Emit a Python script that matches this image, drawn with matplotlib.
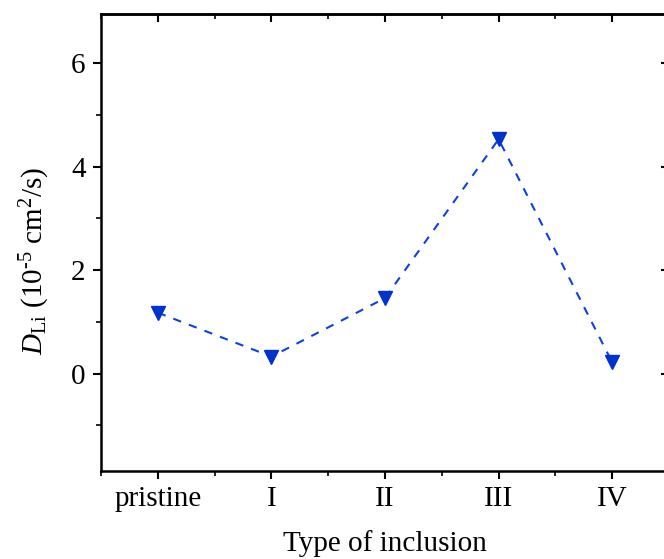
import numpy as np
import matplotlib.pyplot as plt
from matplotlib.ticker import MultipleLocator

# Data
categories = ["pristine", "I", "II", "III", "IV"]
d_li = [1.18, 0.33, 1.46, 4.53, 0.22]

plt.rcParams['font.family'] = 'Liberation Serif'
plt.rcParams['mathtext.fontset'] = 'custom'
plt.rcParams['mathtext.rm'] = 'Liberation Serif'
plt.rcParams['mathtext.it'] = 'Liberation Serif:italic'

fig = plt.figure(figsize=(6.64, 5.59), dpi=100)
ax = fig.add_axes([101 / 664, 1 - 471 / 559, 568 / 664, 457 / 559])

x = np.arange(len(categories))
ax.plot(x, d_li, linestyle='--', color='#1040e0', linewidth=1.5,
        marker='v', markersize=10, markerfacecolor='#0033cc',
        markeredgecolor='#0033cc', dashes=(4, 4))

ax.set_xlim(-0.5, 4.5)
ax.set_ylim(-1.88, 6.95)
ax.set_xticks(x)
ax.set_xticklabels(categories)
ax.xaxis.set_minor_locator(MultipleLocator(0.5))
ax.yaxis.set_major_locator(MultipleLocator(2))
ax.yaxis.set_minor_locator(MultipleLocator(1))

ax.tick_params(axis='both', which='major', labelsize=21, length=6, width=1.5,
               direction='out')
ax.tick_params(axis='both', which='minor', length=3.5, width=1.2,
               direction='out')
ax.tick_params(axis='x', which='major', pad=5)
ax.tick_params(axis='y', which='major', pad=5)

# top and right ticks point inward, no labels
top = ax.secondary_xaxis('top')
top.set_xticks(x)
top.xaxis.set_minor_locator(MultipleLocator(0.5))
top.tick_params(which='major', direction='in', length=6, width=1.5, labeltop=False)
top.tick_params(which='minor', direction='in', length=3.5, width=1.2)
right = ax.secondary_yaxis('right')
right.yaxis.set_major_locator(MultipleLocator(2))
right.yaxis.set_minor_locator(MultipleLocator(1))
right.tick_params(which='major', direction='in', length=6, width=1.5, labelright=False)
right.tick_params(which='minor', direction='in', length=3.5, width=1.2)

for s in list(ax.spines.values()) + [top.spines['top'], right.spines['right']]:
    s.set_linewidth(1.8)

ax.set_xlabel("Type of inclusion", fontsize=21, labelpad=13)
ax.set_ylabel(r"$D_{\mathrm{Li}}$ (10$^{\text{-}5}$ cm$^{2}$/s)", fontsize=21)
ax.yaxis.set_label_coords(-0.086, 0.46)

fig.savefig("out.png", dpi=100)
